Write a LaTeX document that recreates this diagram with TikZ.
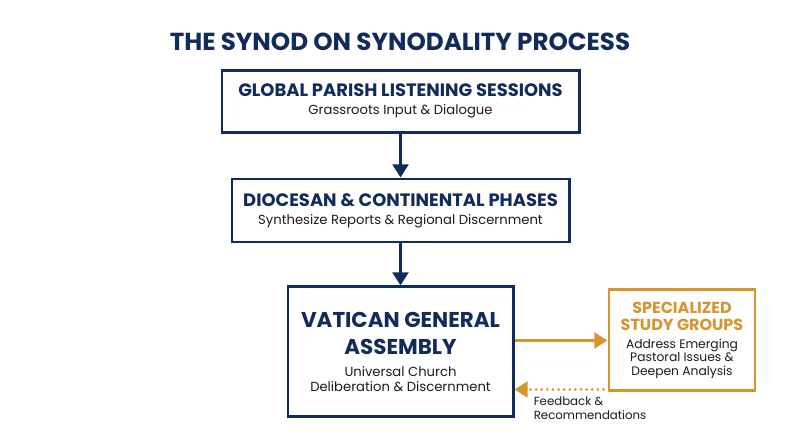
\documentclass[tikz,border=0pt]{standalone}
\usepackage{fontspec}
\setmainfont{Poppins}
\usepackage{xcolor}
\usetikzlibrary{positioning, arrows.meta}
\definecolor{synodnavy}{HTML}{112B5A}
\definecolor{synodgold}{HTML}{D6952F}
\definecolor{synodtext}{HTML}{1C1C1C}

\begin{document}
\begin{tikzpicture}[
    node distance=0.88cm,
    phase/.style={draw=synodnavy, line width=1.7pt, fill=white, align=center, inner sep=0pt},
    study/.style={draw=synodgold, line width=1.7pt, fill=white, align=center, inner sep=0pt},
    flow/.style={draw=synodnavy, line width=1.7pt, -{Triangle[length=7.5pt, width=9pt]}},
    goldflow/.style={draw=synodgold, line width=1.7pt, -{Triangle[length=7.5pt, width=9pt]}}
]
\useasboundingbox (0,0) rectangle (16,-8.94);

\node[draw=none, font=\fontsize{14}{16}\selectfont\bfseries, text=synodnavy] (title) at (8,-0.84) {THE SYNOD ON SYNODALITY PROCESS};

\node[phase, minimum width=7.14cm, minimum height=1.24cm, font=\fontsize{7.5}{8.5}\selectfont] (global) at (8.01,-2.02)
    {\fontsize{10.2}{12}\selectfont\bfseries\color{synodnavy}GLOBAL PARISH LISTENING SESSIONS\\[1.7pt]
     \color{synodtext}Grassroots Input \& Dialogue};
\node[phase, minimum width=6.74cm, minimum height=1.26cm, font=\fontsize{7.5}{8.5}\selectfont] (diocesan) [below=0.88cm of global]
    {\fontsize{10.2}{12}\selectfont\bfseries\color{synodnavy}DIOCESAN \& CONTINENTAL PHASES\\[1.7pt]
     \color{synodtext}Synthesize Reports \& Regional Discernment};
\node[phase, minimum width=4.5cm, minimum height=2.6cm, font=\fontsize{7.5}{8.5}\selectfont] (vatican) [below=0.84cm of diocesan]
    {\fontsize{12.2}{14}\selectfont\bfseries\color{synodnavy}VATICAN GENERAL\\[5.7pt]
     \fontsize{12.2}{14}\selectfont\bfseries\color{synodnavy}ASSEMBLY\\[4pt]
     \color{synodtext}Universal Church\\
     \color{synodtext}Deliberation \& Discernment};
\node[study, minimum width=2.92cm, minimum height=2.02cm, font=\fontsize{7}{7.9}\selectfont] (groups) [right=1.86cm of vatican.north east, anchor=north west, yshift=-0.06cm]
    {\fontsize{9.1}{10}\selectfont\bfseries\color{synodgold}SPECIALIZED\\[1.7pt]
     \fontsize{9.1}{10}\selectfont\bfseries\color{synodgold}STUDY GROUPS\\[2.3pt]
     \color{synodtext}Address Emerging\\
     \color{synodtext}Pastoral Issues \&\\
     \color{synodtext}Deepen Analysis};

\coordinate (fbstart) at ([xshift=-0.08cm, yshift=0.06cm]groups.south west);
\coordinate (fbend) at (vatican.east |- fbstart);

\draw[flow] (global) -- (diocesan);
\draw[flow] (diocesan) -- (vatican);
\draw[goldflow] (vatican.east |- groups.west) -- (groups.west);
\draw[goldflow, dash pattern=on 0pt off 3.2pt, line cap=round] (fbstart) -- node[pos=0.8, anchor=north west, inner sep=0pt, yshift=-0.12cm, align=left, text=synodtext, font=\fontsize{6.7}{8}\selectfont] (feedback) {Feedback \&\\Recommendations} (fbend);
\end{tikzpicture}
\end{document}
